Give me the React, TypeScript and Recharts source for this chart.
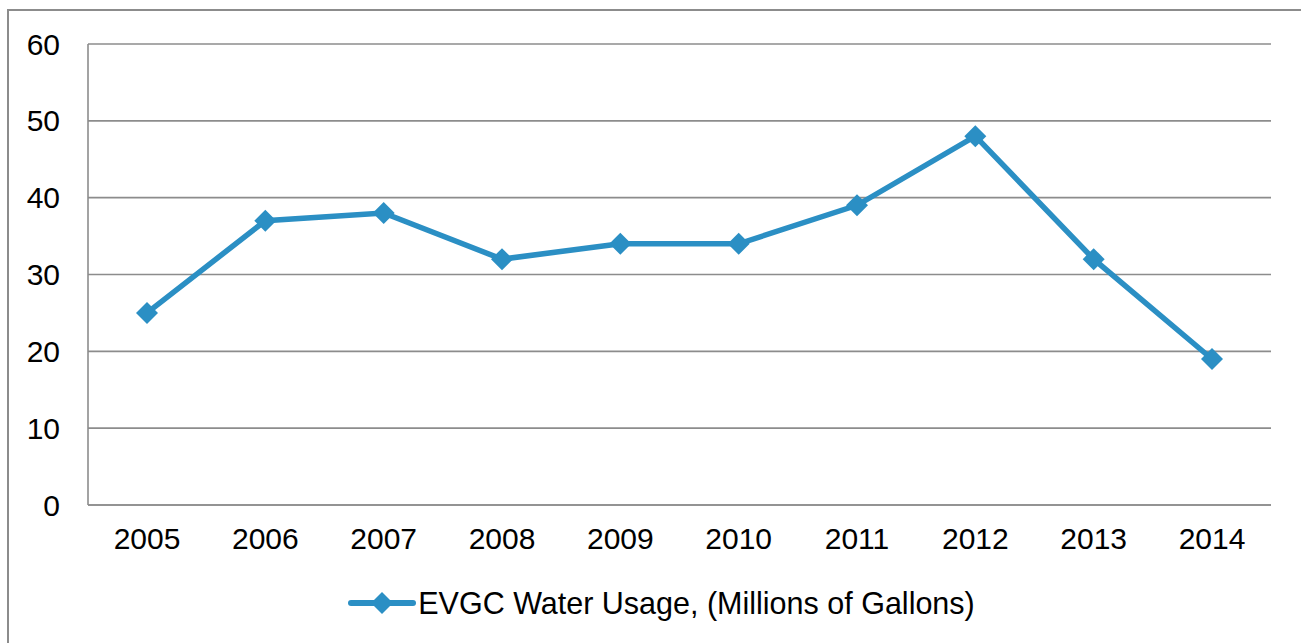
import { LineChart, Line, XAxis, YAxis, CartesianGrid, Legend } from 'recharts';

const years = ['2005', '2006', '2007', '2008', '2009', '2010', '2011', '2012', '2013', '2014'];
const waterUsage = [25, 37, 38, 32, 34, 34, 39, 48, 32, 19];
const yTicks = [0, 10, 20, 30, 40, 50, 60];

const seriesName = 'EVGC Water Usage, (Millions of Gallons)';
const blue = '#2b8fc4';
const gridGray = '#8c8c8c';
const font = '"Liberation Sans", Arial, sans-serif';

const data = years.map((year, i) => ({ year, usage: waterUsage[i] }));

const Diamond = (props: any) => {
  const { cx, cy } = props;
  if (cx == null || cy == null) return null;
  const r = 11;
  return (
    <polygon
      points={`${cx},${cy - r} ${cx + r},${cy} ${cx},${cy + r} ${cx - r},${cy}`}
      fill={blue}
    />
  );
};

const LegendContent = () => (
  <div
    style={{
      display: 'flex',
      justifyContent: 'center',
      alignItems: 'center',
      height: 60,
      paddingLeft: 52,
      fontFamily: font,
      fontSize: 30.5,
      color: '#000',
    }}
  >
    <svg width={68} height={26} style={{ marginRight: 2 }}>
      <line x1={3} y1={13} x2={65} y2={13} stroke={blue} strokeWidth={6} strokeLinecap="round" />
      <polygon points="34,2 45,13 34,24 23,13" fill={blue} />
    </svg>
    <span>{seriesName}</span>
  </div>
);

export default function App() {
  return (
    <div style={{ position: 'absolute', left: 0, top: 0, width: 1301, height: 643, background: '#fff', overflow: 'hidden' }}>
      {/* outer frame: only top and left edges fall inside the view */}
      <div
        style={{
          position: 'absolute',
          left: 7,
          top: 9,
          width: 1400,
          height: 800,
          borderTop: `2px solid ${gridGray}`,
          borderLeft: `2px solid ${gridGray}`,
        }}
      />
      <LineChart
        width={1301}
        height={643}
        data={data}
        margin={{ top: 44, right: 30, left: 0, bottom: 10 }}
        style={{ position: 'absolute', left: 0, top: 0 }}
      >
        <CartesianGrid vertical={false} stroke={gridGray} strokeWidth={1.6} />
        <XAxis
          dataKey="year"
          height={68}
          padding={{ left: 59, right: 59 }}
          axisLine={{ stroke: gridGray, strokeWidth: 1.6 }}
          tickLine={false}
          tickSize={0}
          tickMargin={23}
          interval={0}
          tick={{ fill: '#000', fontSize: 30, fontFamily: font }}
        />
        <YAxis
          domain={[0, 60]}
          ticks={yTicks}
          width={88}
          axisLine={{ stroke: gridGray, strokeWidth: 1.6 }}
          tickLine={false}
          tickSize={0}
          tickMargin={28}
          tick={{ fill: '#000', fontSize: 30, fontFamily: font }}
        />
        <Line
          type="linear"
          dataKey="usage"
          name={seriesName}
          stroke={blue}
          strokeWidth={5.5}
          dot={<Diamond />}
          activeDot={false}
          isAnimationActive={false}
        />
        <Legend verticalAlign="bottom" content={<LegendContent />} wrapperStyle={{ height: 60 }} />
      </LineChart>
    </div>
  );
}
